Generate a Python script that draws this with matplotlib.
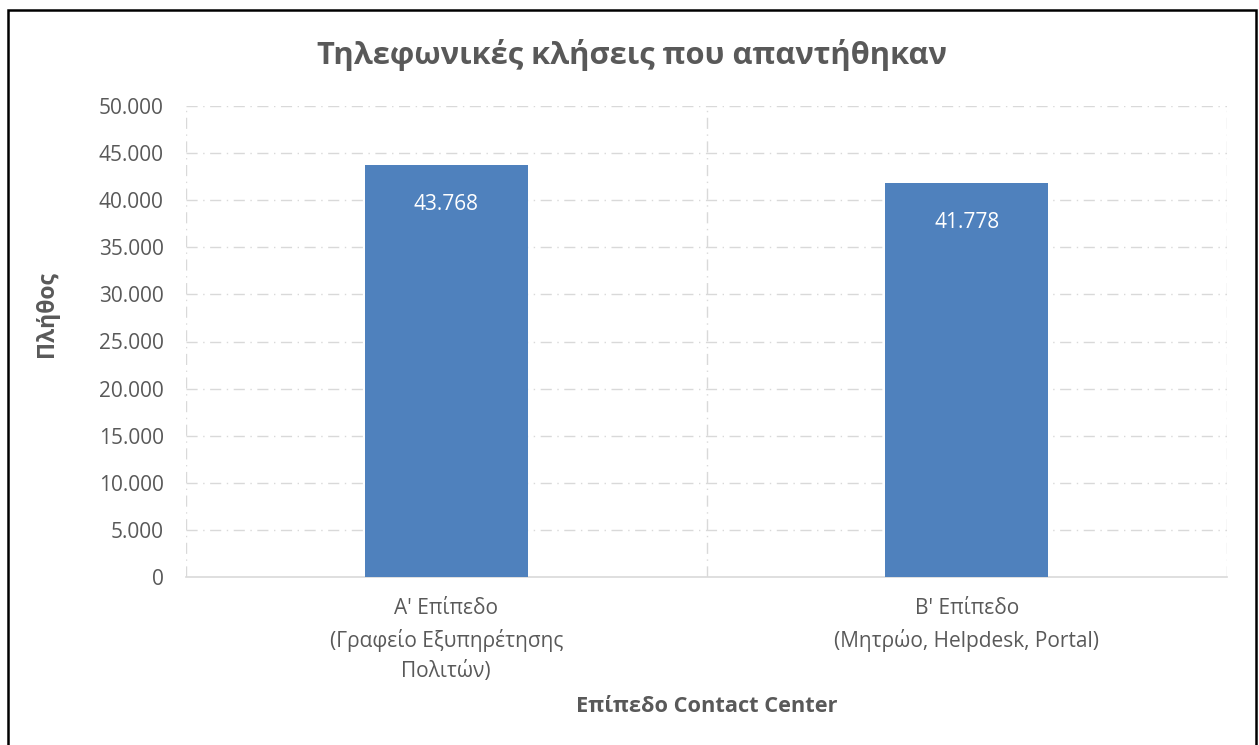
import matplotlib.pyplot as plt
from matplotlib.patches import Rectangle

# Δεδομένα
kategories = ["Α' Επίπεδο\n(Γραφείο Εξυπηρέτησης\nΠολιτών)",
              "Β' Επίπεδο\n(Μητρώο, Helpdesk, Portal)"]
kliseis = [43768, 41778]
y_ticks = [0, 5000, 10000, 15000, 20000, 25000, 30000, 35000, 40000, 45000, 50000]

plt.rcParams['font.family'] = ['Open Sans', 'DejaVu Sans']
grey_text = '#595959'
grid_col = '#d9d9d9'

fig = plt.figure(figsize=(12.59, 7.45), dpi=100)
ax = fig.add_axes([186 / 1259, 1 - 577 / 745, (1227 - 186) / 1259, (577 - 106) / 745])

x = list(range(len(kategories)))
bars = ax.bar(x, kliseis, width=0.313, color='#4f81bd', zorder=3)

ax.set_xlim(-0.5, len(kategories) - 0.5)
ax.set_ylim(0, 50000)
ax.set_yticks(y_ticks)
ax.set_yticklabels([f"{v:,}".replace(",", ".") for v in y_ticks])
ax.set_xticks(x)
ax.set_xticklabels(kategories, linespacing=1.55)

# Πλέγμα με διακεκομμένες γραμμές
dash = (0, (8, 4, 1, 4))
for v in y_ticks[1:]:
    ax.axhline(v, color=grid_col, lw=1, linestyle=dash, zorder=1)
for b in [-0.5, 0.5, 1.5]:
    ax.axvline(b, color=grid_col, lw=1, linestyle=dash, zorder=1)

for s in ['left', 'top', 'right']:
    ax.spines[s].set_visible(False)
ax.spines['bottom'].set_color(grid_col)
ax.spines['bottom'].set_linewidth(1.2)
ax.tick_params(axis='both', length=0, labelsize=15, colors=grey_text)
ax.tick_params(axis='x', pad=15)
ax.tick_params(axis='y', pad=16)

# Ετικέτες τιμών
ax.bar_label(bars, labels=[f"{v:,}".replace(",", ".") for v in kliseis],
             padding=-36, color='white', fontsize=15)

fig.text(632 / 1259, 1 - 55 / 745, 'Τηλεφωνικές κλήσεις που απαντήθηκαν',
         ha='center', va='center', fontsize=22.2, fontweight='bold', color=grey_text)
fig.text(47 / 1259, 1 - 314 / 745, 'Πλήθος', rotation=90, ha='center', va='center',
         fontsize=16.5, fontweight='bold', color=grey_text)
fig.text(707 / 1259, 1 - 707 / 745, 'Επίπεδο Contact Center', ha='center', va='center',
         fontsize=15.7, fontweight='bold', color=grey_text)

# Περίγραμμα
fig.patches.append(Rectangle((8 / 1259, -0.01), (1256 - 8) / 1259, 1.01 - 10 / 745,
                             transform=fig.transFigure, fill=False, edgecolor='black', lw=1.8))

fig.savefig('out.png', dpi=100)
